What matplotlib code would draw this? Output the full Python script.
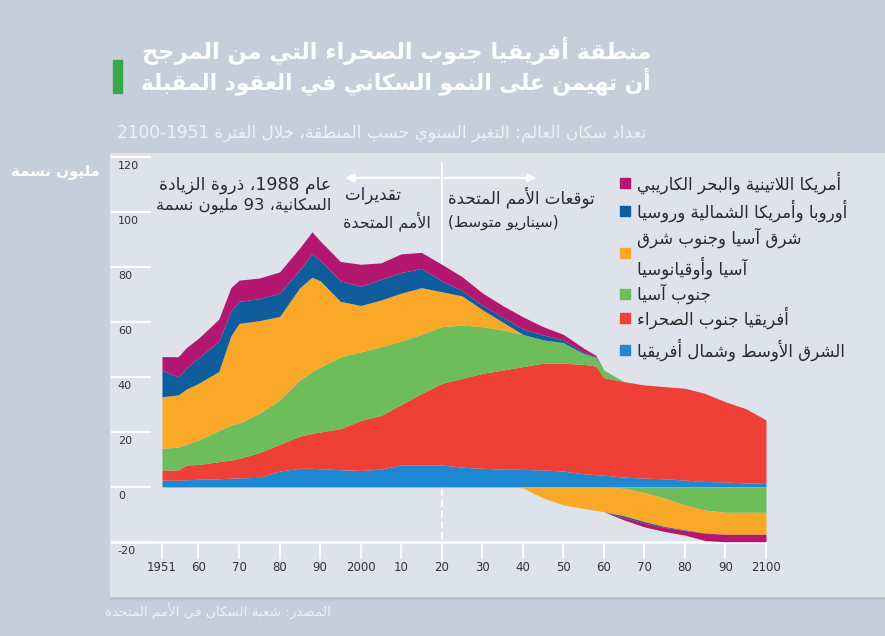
import re
import numpy as np
import matplotlib
matplotlib.use('Agg')
import matplotlib.pyplot as plt
from matplotlib.patches import Rectangle
from matplotlib.transforms import blended_transform_factory

# annual population change by region, million people
years = [1951, 1955, 1957, 1960, 1965, 1968, 1970, 1975, 1980, 1985, 1988, 1990,
         1995, 2000, 2005, 2010, 2015, 2020, 2025, 2030, 2035, 2040, 2045, 2050,
         2055, 2058, 2060, 2065, 2070, 2075, 2080, 2085, 2090, 2095, 2100]
mena = [2.5, 2.5, 2.6, 2.8, 3.0, 3.2, 3.3, 3.5, 5.8, 6.8, 6.8, 6.6,
        6.3, 6.0, 6.5, 8.0, 8.0, 8.0, 7.2, 6.8, 6.5, 6.4, 6.2, 5.8,
        4.8, 4.5, 4.3, 3.6, 3.2, 3.0, 2.5, 2.0, 1.8, 1.5, 1.3]
ssa = [3.7, 3.7, 5.4, 5.4, 6.2, 6.6, 7.1, 9.0, 9.7, 11.7, 12.7, 13.4,
       14.9, 18.2, 19.5, 22.0, 26.0, 29.7, 32.3, 34.5, 36.0, 37.4, 38.8, 39.2,
       39.8, 39.5, 35.5, 34.7, 33.9, 33.5, 33.4, 32.0, 29.2, 27.0, 23.1]
south_asia = [7.9, 8.3, 7.5, 8.9, 11.3, 12.7, 12.8, 14.3, 16.1, 20.4, 22.5, 23.6,
              26.1, 24.9, 25.0, 23.0, 21.5, 20.6, 19.4, 17.0, 14.6, 11.7, 8.5, 7.5,
              3.9, 3.2, 2.7, -0.5, -2.0, -4.1, -6.5, -8.4, -9.2, -9.2, -9.2]
east_asia = [18.7, 19.0, 20.1, 20.6, 21.5, 32.5, 36.3, 33.7, 30.4, 33.6, 34.3, 31.4,
             20.2, 16.9, 17.0, 17.5, 17.0, 12.7, 10.6, 6.2, 2.9, -0.3, -4.0, -6.5,
             -7.8, -8.5, -9.0, -10.0, -10.6, -10.3, -9.1, -8.4, -8.0, -8.0, -8.0]
europe = [9.7, 6.5, 7.7, 9.3, 11.0, 9.0, 8.0, 8.0, 8.5, 6.5, 8.5, 7.5,
          7.5, 7.0, 7.5, 7.5, 7.0, 4.0, 2.0, 1.6, 1.8, 2.0, 1.8, 1.0,
          0.5, 0.2, 0.0, -0.6, -0.5, -0.3, -0.2, 0.0, 0.0, 0.0, 0.0]
latam = [4.9, 7.4, 7.4, 7.1, 8.0, 8.5, 7.7, 7.5, 7.7, 8.0, 8.0, 7.0,
         7.0, 8.0, 6.0, 6.8, 5.8, 6.0, 5.0, 4.5, 4.2, 4.4, 3.0, 2.0,
         1.5, 0.5, 0.0, -0.9, -1.4, -1.5, -1.7, -2.7, -2.7, -2.7, -2.7]

series = [mena, ssa, south_asia, east_asia, europe, latam]
colors = ['#1e88d2', '#ee4036', '#6dbe5b', '#f9a827', '#0f5d9c', '#b3176f']
labels = ['الشرق الأوسط وشمال أفريقيا', 'أفريقيا جنوب الصحراء', 'جنوب آسيا',
          'شرق آسيا وجنوب شرق\nآسيا وأوقيانوسيا', 'أوروبا وأمريكا الشمالية وروسيا',
          'أمريكا اللاتينية والبحر الكاريبي']
xticks = [1951, 1960, 1970, 1980, 1990, 2000, 2010, 2020, 2030, 2040, 2050,
          2060, 2070, 2080, 2090, 2100]
xticklabels = ['1951', '60', '70', '80', '90', '2000', '10', '20', '30', '40',
               '50', '60', '70', '80', '90', '2100']
yticks = [120, 100, 80, 60, 40, 20, 0, -20]

# --- tiny arabic shaping + rtl ordering (matplotlib does neither) ---
RIGHT = {'آ': 0xFE81, 'أ': 0xFE83, 'ؤ': 0xFE85, 'إ': 0xFE87, 'ا': 0xFE8D,
         'ة': 0xFE93, 'د': 0xFEA9, 'ذ': 0xFEAB, 'ر': 0xFEAD, 'ز': 0xFEAF,
         'و': 0xFEED, 'ى': 0xFEEF}
DUAL = {'ئ': 0xFE89, 'ب': 0xFE8F, 'ت': 0xFE95, 'ث': 0xFE99, 'ج': 0xFE9D,
        'ح': 0xFEA1, 'خ': 0xFEA5, 'س': 0xFEB1, 'ش': 0xFEB5, 'ص': 0xFEB9,
        'ض': 0xFEBD, 'ط': 0xFEC1, 'ظ': 0xFEC5, 'ع': 0xFEC9, 'غ': 0xFECD,
        'ف': 0xFED1, 'ق': 0xFED5, 'ك': 0xFED9, 'ل': 0xFEDD, 'م': 0xFEE1,
        'ن': 0xFEE5, 'ه': 0xFEE9, 'ي': 0xFEF1}
LAM_ALEF = {'آ': 0xFEF5, 'أ': 0xFEF7, 'إ': 0xFEF9, 'ا': 0xFEFB}
MIRROR = str.maketrans('()', ')(')


def shape(s):
    out = []
    i = 0
    while i < len(s):
        c = s[i]
        prev = s[i - 1] if i > 0 else ''
        nxt = s[i + 1] if i + 1 < len(s) else ''
        if c == 'ل' and nxt in LAM_ALEF:
            out.append(chr(LAM_ALEF[nxt] + (1 if prev in DUAL else 0)))
            i += 2
            continue
        if c in RIGHT:
            out.append(chr(RIGHT[c] + (1 if prev in DUAL else 0)))
        elif c in DUAL:
            p = prev in DUAL
            n = nxt in DUAL or nxt in RIGHT
            out.append(chr(DUAL[c] + (3 if p and n else 1 if p else 2 if n else 0)))
        elif c == 'ء':
            out.append(chr(0xFE80))
        else:
            out.append(c)
        i += 1
    return ''.join(out)


def ar(text):
    lines = []
    for line in text.split('\n'):
        runs = re.findall(r'[0-9]+|[^0-9]+', shape(line))
        lines.append(''.join(r if r[0].isdigit() else r[::-1].translate(MIRROR)
                             for r in reversed(runs)))
    return '\n'.join(lines)


W, H = 885, 636
fig = plt.figure(figsize=(W / 100, H / 100), dpi=100, facecolor='#c7cedb')
plt.rcParams['font.family'] = ['DejaVu Sans']


def fx(px):
    return px / W


def fy(py):
    return 1 - py / H


# light panel behind the chart
fig.add_artist(Rectangle((fx(110), fy(599)), fx(W - 110), (599 - 153) / H,
                         transform=fig.transFigure, color='#b8bfcc', zorder=0))
fig.add_artist(Rectangle((fx(110), fy(596)), fx(W - 110), (596 - 153) / H,
                         transform=fig.transFigure, color='#dee2eb', zorder=0))
# green marker next to the title
fig.add_artist(Rectangle((fx(113), fy(93)), fx(9), 33 / H,
                         transform=fig.transFigure, color='#3aa64a', zorder=1))

fig.text(fx(651), fy(50), ar('منطقة أفريقيا جنوب الصحراء التي من المرجح'),
         ha='right', va='center', color='white', fontsize=16.2, fontweight='bold')
fig.text(fx(651), fy(81), ar('أن تهيمن على النمو السكاني في العقود المقبلة'),
         ha='right', va='center', color='white', fontsize=15.6, fontweight='bold')
fig.text(fx(646), fy(133), ar('تعداد سكان العالم: التغير السنوي حسب المنطقة، خلال الفترة 1951-2100'),
         ha='right', va='center', color='#eef0f5', fontsize=12.2)
fig.text(fx(100), fy(172), ar('مليون نسمة'), ha='right', va='center',
         color='white', fontsize=10.8, fontweight='bold')
fig.text(fx(105), fy(612), ar('المصدر: شعبة السكان في الأمم المتحدة'),
         ha='left', va='center', color='#eef0f5', fontsize=9.7)

ax = fig.add_axes([fx(162), fy(542), fx(766 - 162), (542 - 157) / H])
ax.set_facecolor('none')
ax.set_xlim(1951, 2100)
ax.set_ylim(-20, 120)
for s in ax.spines.values():
    s.set_visible(False)

# stacked areas, positives up from zero and negatives down from zero
x = np.array(years)
pos_base = np.zeros(len(x))
neg_base = np.zeros(len(x))
for vals, col in zip(series, colors):
    v = np.array(vals)
    pos = np.clip(v, 0, None)
    neg = np.clip(v, None, 0)
    ax.fill_between(x, pos_base, pos_base + pos, color=col, lw=0, zorder=3)
    ax.fill_between(x, neg_base + neg, neg_base, color=col, lw=0, zorder=3)
    pos_base = pos_base + pos
    neg_base = neg_base + neg

# left stubs and y labels
blend = blended_transform_factory(ax.transAxes, ax.transData)
for yv in yticks:
    ax.plot([-0.083, -0.02], [yv, yv], color='white', lw=1.5, transform=blend,
            clip_on=False, zorder=2)
    ax.text(-0.073, yv - 3.2, str(yv), transform=blend, ha='left', va='center',
            fontsize=8, color='#333333')
ax.plot([-0.083, 1.0], [-20, -20], color='white', lw=1.8, transform=blend,
        clip_on=False, zorder=2)
ax.axhline(0, color='white', lw=1.2, zorder=2)

ax.set_yticks([])
ax.set_xticks(xticks)
ax.set_xticklabels(xticklabels)
ax.tick_params(axis='x', length=12, width=1.3, color='white', pad=2,
               labelsize=8.5, labelcolor='#333333')

# estimates / projections divider: solid above the areas, dashed below zero
ax.plot([2020, 2020], [0, 118], color='white', lw=1.3, clip_on=False, zorder=1)
ax.plot([2020, 2020], [-27, 0], color='white', lw=1.3, ls=(0, (4, 2)),
        clip_on=False, zorder=1)
arrow = dict(arrowstyle='-|>', color='white', lw=1.6, mutation_scale=12)
ax.annotate('', xy=(1995.5, 112.4), xytext=(2020, 112.4), arrowprops=arrow,
            annotation_clip=False)
ax.annotate('', xy=(2044, 112.4), xytext=(2020, 112.4), arrowprops=arrow,
            annotation_clip=False)

txt = '#2a2a2a'
fig.text(fx(331), fy(185), ar('عام 1988، ذروة الزيادة'), ha='right', va='center',
         fontsize=12.5, color=txt)
fig.text(fx(331), fy(206), ar('السكانية، 93 مليون نسمة'), ha='right', va='center',
         fontsize=11.8, color=txt)
fig.text(fx(345), fy(195), ar('تقديرات'), ha='left', va='center', fontsize=12, color=txt)
fig.text(fx(343), fy(221), ar('الأمم المتحدة'), ha='left', va='center', fontsize=11.4, color=txt)
fig.text(fx(448), fy(197), ar('توقعات الأمم المتحدة'), ha='left', va='center',
         fontsize=12, color=txt)
fig.text(fx(448), fy(222), ar('(سيناريو متوسط)'), ha='left', va='center',
         fontsize=11, color=txt)

# legend, listed bottom layer first like the series
leg_y = [350, 318, 294, 253, 211, 183]
for lab, col, yy in zip(labels, colors, leg_y):
    fig.add_artist(Rectangle((fx(620), fy(yy + 5)), fx(10), 10 / H,
                             transform=fig.transFigure, color=col))
    fig.text(fx(637), fy(yy), ar(lab), ha='left', va='center', fontsize=12,
             color=txt, linespacing=1.45)

fig.savefig('out.png', dpi=100, facecolor=fig.get_facecolor())
